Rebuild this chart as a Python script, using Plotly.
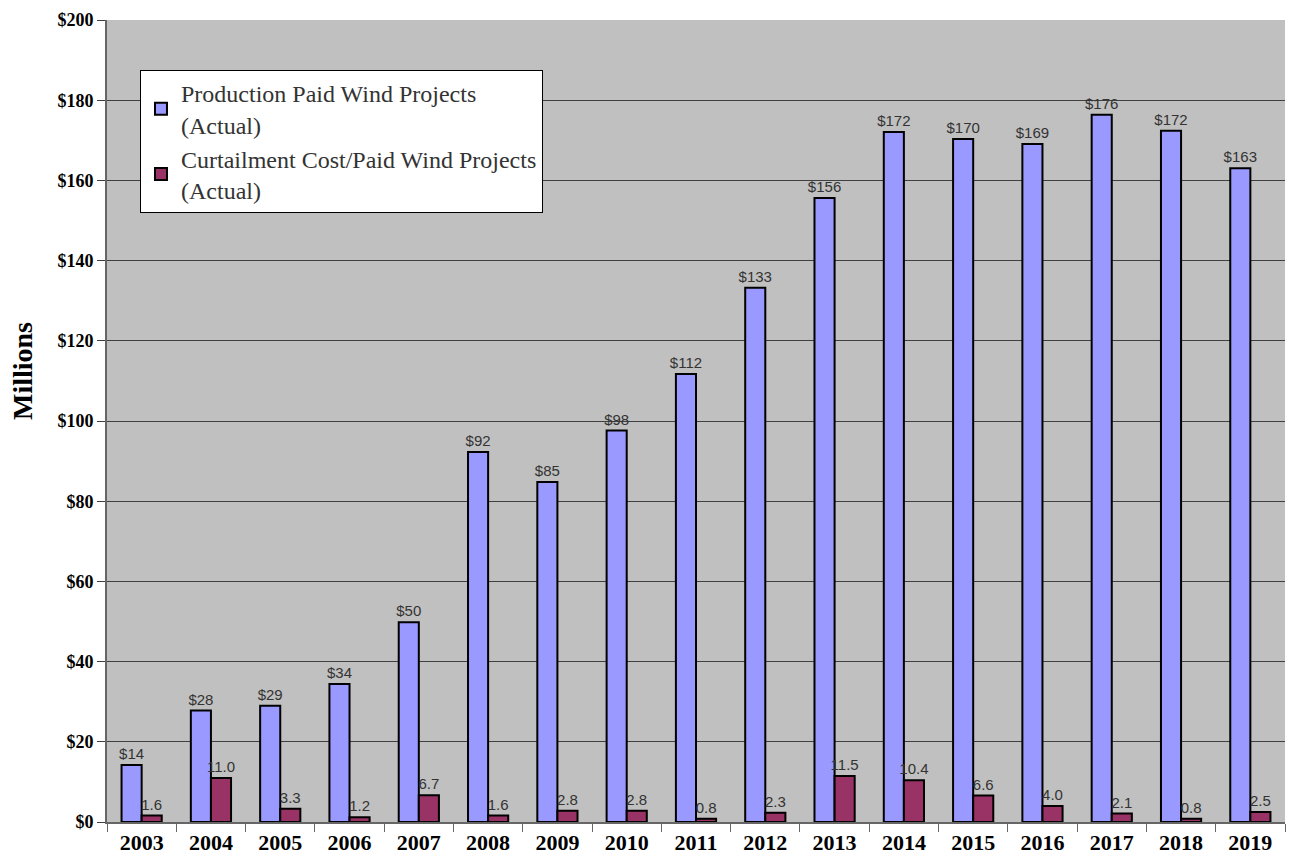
import plotly.graph_objects as go

years = ["2003", "2004", "2005", "2006", "2007", "2008", "2009", "2010", "2011",
         "2012", "2013", "2014", "2015", "2016", "2017", "2018", "2019"]
production = [14.2, 27.8, 29.0, 34.4, 49.8, 92.3, 84.8, 97.6, 111.7,
              133.2, 155.6, 172.1, 170.3, 169.1, 176.4, 172.4, 163.0]
curtailment = [1.6, 11.0, 3.3, 1.2, 6.7, 1.6, 2.8, 2.8, 0.8,
               2.3, 11.5, 10.4, 6.6, 4.0, 2.1, 0.8, 2.5]
y_ticks = [0, 20, 40, 60, 80, 100, 120, 140, 160, 180, 200]
y_tick_labels = ["$" + str(v) for v in y_ticks]

label_font = dict(family="Liberation Sans, Arial", size=15, color="#333333")
serif = "Liberation Serif, Times New Roman, serif"

fig = go.Figure()
fig.add_trace(go.Bar(
    x=years, y=production, name="Production Paid Wind Projects<br>(Actual)",
    marker=dict(color="#9999FF", line=dict(color="black", width=2)),
    texttemplate="$%{y:.0f}", textposition="outside", textfont=label_font,
    constraintext="none", cliponaxis=False,
))
fig.add_trace(go.Bar(
    x=years, y=curtailment, name="Curtailment Cost/Paid Wind Projects<br>(Actual)",
    marker=dict(color="#993366", line=dict(color="black", width=2)),
    texttemplate="%{y:.1f}", textposition="outside", textfont=label_font,
    constraintext="none", cliponaxis=False,
))

fig.update_layout(
    width=1289, height=861,
    margin=dict(l=107, r=4, t=20, b=39),
    paper_bgcolor="white", plot_bgcolor="#C0C0C0",
    barmode="group", bargap=0.42, bargroupgap=0,
    showlegend=True,
    legend=dict(
        x=0.028, y=0.9377, xanchor="left", yanchor="top",
        bgcolor="white", bordercolor="black", borderwidth=1,
        font=dict(family=serif, size=24, color="#333333"),
        tracegroupgap=2, traceorder="normal",
    ),
    xaxis=dict(
        showgrid=False, showline=True, linecolor="#666666", linewidth=2,
        ticks="outside", tickson="boundaries", ticklen=8, tickcolor="#666666",
        tickfont=dict(family=serif, size=22, color="black", weight="bold"),
        mirror=False,
    ),
    yaxis=dict(
        range=[0, 200], tickvals=y_ticks, ticktext=y_tick_labels,
        showgrid=True, gridcolor="#404040", gridwidth=1,
        showline=True, linecolor="#666666", linewidth=2,
        ticks="outside", ticklen=8, tickcolor="#404040",
        tickfont=dict(family=serif, size=18, color="black", weight="bold"),
        zeroline=False,
    ),
    annotations=[dict(
        text="Millions", xref="paper", yref="paper",
        x=(22 - 107) / 1178, y=(822 - 371) / 802,
        xanchor="center", yanchor="middle", textangle=-90, showarrow=False,
        font=dict(family=serif, size=28, color="black", weight="bold"),
    )],
)

fig.write_html("out.html")
